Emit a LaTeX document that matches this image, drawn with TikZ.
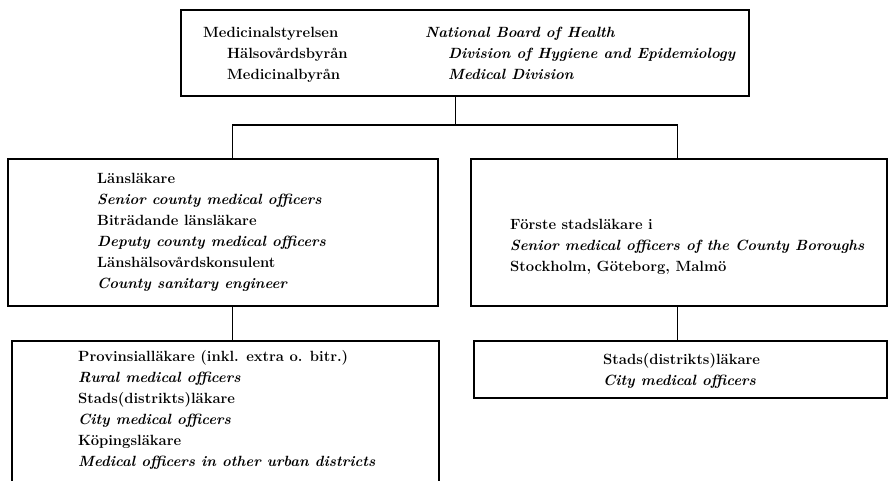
\documentclass[tikz,border=0pt]{standalone}
\usepackage{tikz}
\usetikzlibrary{positioning}

\tikzset{
	box/.style={draw, rectangle, line width=1.6pt, inner sep=0pt, anchor=north west},
	txt/.style={anchor=north west, inner sep=0pt, align=left, font=\fontsize{14.8}{21}\selectfont\bfseries},
}
\newcommand{\en}[1]{\textit{#1}}

\begin{document}
\begin{tikzpicture}[x=1pt,y=-1pt]
		\fill[white] (0,0) rectangle (893,481);
		\useasboundingbox (0,0) rectangle (893,481);

		% boxes
		\draw (180,9) node [box, minimum width=568pt, minimum height=86pt] (top) {};
		\draw (7,158) node [box, minimum width=430pt, minimum height=147pt] (lmid) {};
		\draw (470,158) node [box, minimum width=416pt, minimum height=147pt] (rmid) {};
		\draw (11,340) node [box, minimum width=427pt, minimum height=145pt] (lbot) {};
		\draw (473,340) node [box, minimum width=413pt, minimum height=57pt] (rbot) {};

		% texts
		\draw (203,22.3) node [txt] (topsv) {\strut Medicinalstyrelsen\\ \hspace*{24pt}Hälsovårdsbyrån\\ \hspace*{24pt}Medicinalbyrån};
		\draw (425,22.3) node [txt] (topen) {\strut\en{National Board of Health}\\ \hspace*{23pt}\en{Division of Hygiene and Epidemiology}\\ \hspace*{23pt}\en{Medical Division}};
		\draw (97,168.3) node [txt] (lmidtxt) {\strut Länsläkare\\ \en{Senior county medical officers}\\ Biträdande länsläkare\\ \en{Deputy county medical officers}\\ Länshälsovårdskonsulent\\ \en{County sanitary engineer}};
		\draw (510,214.3) node [txt] (rmidtxt) {\strut Förste stadsläkare i\\ \en{Senior medical officers of the County Boroughs}\\ Stockholm, Göteborg, Malmö};
		\draw (78,346.3) node [txt] (lbottxt) {\strut Provinsialläkare (inkl. extra o. bitr.)\\ \en{Rural medical officers}\\ Stads(distrikts)läkare\\ \en{City medical officers}\\ Köpingsläkare\\ \en{Medical officers in other urban districts}};
		\draw (603,349.3) node [txt] (rbottxt) {\strut Stads(distrikts)läkare\\ \en{City medical officers}};

		% connectors
		\draw[line width=1.2pt] ([xshift=10pt]lmid.north) -- ++(0,-33) coordinate (bar) -| ([xshift=-1pt]rmid.north);
		\draw[line width=1.2pt] ([xshift=-9pt]top.south) -- ([xshift=-9pt]top.south |- bar);
		\draw[line width=1.2pt] ([xshift=10pt]lmid.south) -- ([xshift=10pt]lmid.south |- lbot.north);
		\draw[line width=1.2pt] ([xshift=-1pt]rmid.south) -- ([xshift=-1pt]rmid.south |- rbot.north);
	\end{tikzpicture}
\end{document}
